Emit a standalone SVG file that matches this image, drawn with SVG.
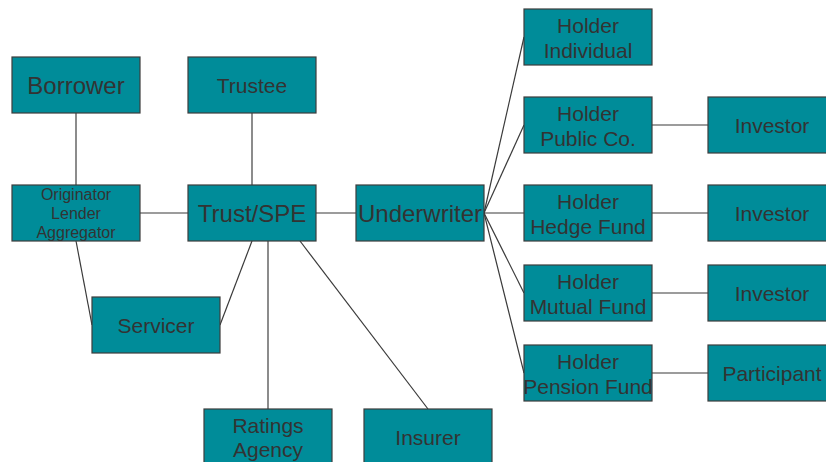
<svg xmlns="http://www.w3.org/2000/svg" width="826" height="462" viewBox="0 0 826 462">
  <style>
    .box { fill: #008c99; stroke: #3c3c3c; stroke-width: 1.2; }
    .t { font-family: "Liberation Sans", Arial, sans-serif; fill: #333333; text-anchor: middle; }
    .big { font-size: 24px; }
    .mid { font-size: 21px; }
    .sm { font-size: 16px; }
    .ln { stroke: #3a3a3a; stroke-width: 1.2; fill: none; }
    .lg { stroke: #8c8c8c; stroke-width: 2; fill: none; }
  </style>
  <rect width="826" height="462" fill="#ffffff"/>

  <!-- connectors -->
  <g id="connectors">
    <line class="lg" x1="76" y1="113" x2="76" y2="185"/>
    <line class="lg" x1="252" y1="113" x2="252" y2="185"/>
    <line class="ln" x1="140" y1="213" x2="188" y2="213"/>
    <line class="ln" x1="316" y1="213" x2="356" y2="213"/>
    <line class="ln" x1="76" y1="241" x2="92" y2="325"/>
    <line class="ln" x1="252" y1="241" x2="220" y2="325"/>
    <line class="lg" x1="268" y1="241" x2="268" y2="409"/>
    <line class="ln" x1="300" y1="241" x2="428" y2="409"/>
    <line class="ln" x1="484" y1="213" x2="524" y2="37"/>
    <line class="ln" x1="484" y1="213" x2="524" y2="125"/>
    <line class="ln" x1="484" y1="213" x2="524" y2="213"/>
    <line class="ln" x1="484" y1="213" x2="524" y2="293"/>
    <line class="ln" x1="484" y1="213" x2="524" y2="373"/>
    <line class="ln" x1="652" y1="125" x2="708" y2="125"/>
    <line class="ln" x1="652" y1="213" x2="708" y2="213"/>
    <line class="ln" x1="652" y1="293" x2="708" y2="293"/>
    <line class="ln" x1="652" y1="373" x2="708" y2="373"/>
  </g>

  <g id="borrower">
    <rect class="box" x="12" y="57" width="128" height="56"/>
    <text class="t big" x="76" y="94">Borrower</text>
  </g>
  <g id="trustee">
    <rect class="box" x="188" y="57" width="128" height="56"/>
    <text class="t mid" x="252" y="93">Trustee</text>
  </g>
  <g id="originator">
    <rect class="box" x="12" y="185" width="128" height="56"/>
    <text class="t sm" x="76" y="200">Originator</text>
    <text class="t sm" x="76" y="219">Lender</text>
    <text class="t sm" x="76" y="238">Aggregator</text>
  </g>
  <g id="trust-spe">
    <rect class="box" x="188" y="185" width="128" height="56"/>
    <text class="t big" x="252" y="222">Trust/SPE</text>
  </g>
  <g id="underwriter">
    <rect class="box" x="356" y="185" width="128" height="56"/>
    <text class="t big" x="420" y="222">Underwriter</text>
  </g>
  <g id="servicer">
    <rect class="box" x="92" y="297" width="128" height="56"/>
    <text class="t mid" x="156" y="333">Servicer</text>
  </g>
  <g id="ratings-agency">
    <rect class="box" x="204" y="409" width="128" height="60"/>
    <text class="t mid" x="268" y="433">Ratings</text>
    <text class="t mid" x="268" y="457">Agency</text>
  </g>
  <g id="insurer">
    <rect class="box" x="364" y="409" width="128" height="60"/>
    <text class="t mid" x="428" y="445">Insurer</text>
  </g>

  <g id="holder-individual">
    <rect class="box" x="524" y="9" width="128" height="56"/>
    <text class="t mid" x="588" y="33">Holder</text>
    <text class="t mid" x="588" y="58">Individual</text>
  </g>
  <g id="holder-public">
    <rect class="box" x="524" y="97" width="128" height="56"/>
    <text class="t mid" x="588" y="121">Holder</text>
    <text class="t mid" x="588" y="146">Public Co.</text>
  </g>
  <g id="holder-hedge">
    <rect class="box" x="524" y="185" width="128" height="56"/>
    <text class="t mid" x="588" y="209">Holder</text>
    <text class="t mid" x="588" y="234">Hedge Fund</text>
  </g>
  <g id="holder-mutual">
    <rect class="box" x="524" y="265" width="128" height="56"/>
    <text class="t mid" x="588" y="289">Holder</text>
    <text class="t mid" x="588" y="314">Mutual Fund</text>
  </g>
  <g id="holder-pension">
    <rect class="box" x="524" y="345" width="128" height="56"/>
    <text class="t mid" x="588" y="369">Holder</text>
    <text class="t mid" x="588" y="394">Pension Fund</text>
  </g>

  <g id="investor-1">
    <rect class="box" x="708" y="97" width="128" height="56"/>
    <text class="t mid" x="772" y="133">Investor</text>
  </g>
  <g id="investor-2">
    <rect class="box" x="708" y="185" width="128" height="56"/>
    <text class="t mid" x="772" y="221">Investor</text>
  </g>
  <g id="investor-3">
    <rect class="box" x="708" y="265" width="128" height="56"/>
    <text class="t mid" x="772" y="301">Investor</text>
  </g>
  <g id="participant">
    <rect class="box" x="708" y="345" width="128" height="56"/>
    <text class="t mid" x="772" y="381">Participant</text>
  </g>
</svg>
